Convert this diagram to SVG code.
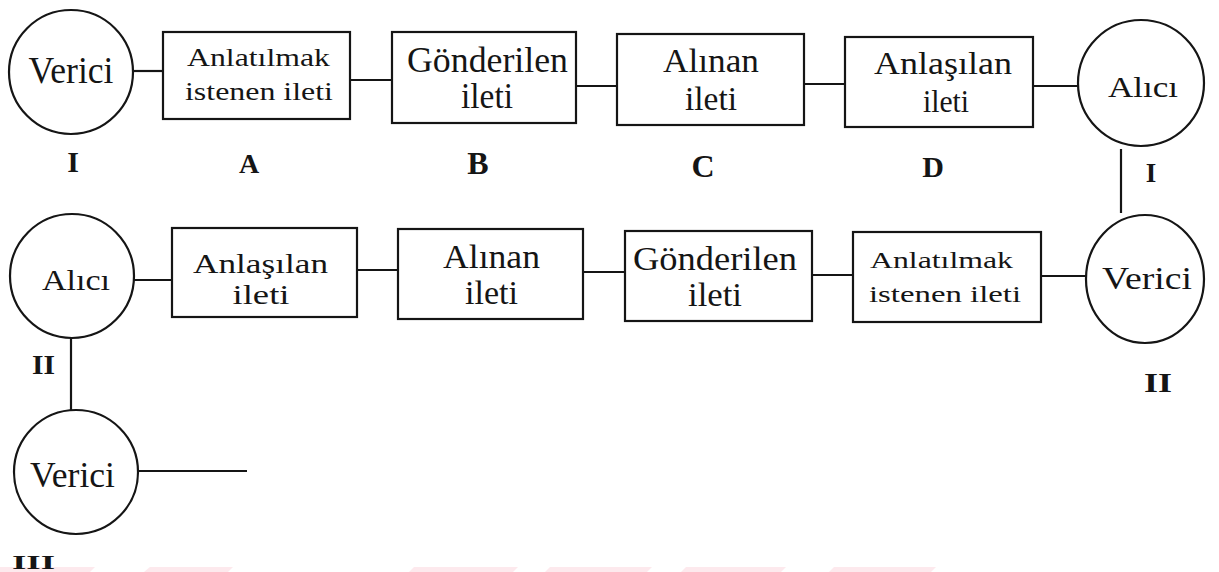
<svg xmlns="http://www.w3.org/2000/svg" width="1219" height="572" viewBox="0 0 1219 572">
  <defs>
    <style>
      .shape { fill: #ffffff; stroke: #151515; stroke-width: 2.2; }
      .wire { stroke: #151515; stroke-width: 2.2; fill: none; }
      .t { font-family: "Liberation Serif", "Times New Roman", serif; fill: #151515; text-anchor: middle; }
      .lbl { font-family: "Liberation Serif", "Times New Roman", serif; fill: #151515; text-anchor: middle; font-weight: bold; }
      .band { fill: #fde9ed; }
    </style>
  </defs>

  <rect x="0" y="0" width="1219" height="572" fill="#ffffff"/>

  <!-- faint band along the bottom edge -->
  <g id="bottom-band">
    <polygon class="band" points="0,567 95,567 90,572 0,572"/>
    <polygon class="band" points="150,567 233,567 228,572 144,572"/>
    <polygon class="band" points="414,567 518,567 513,572 409,572"/>
    <polygon class="band" points="550,567 652,567 647,572 545,572"/>
    <polygon class="band" points="686,567 786,567 781,572 681,572"/>
    <polygon class="band" points="834,567 936,567 931,572 829,572"/>
  </g>

  <!-- connectors -->
  <g id="connectors">
    <line class="wire" x1="133" y1="71" x2="163" y2="71"/>
    <line class="wire" x1="350" y1="80" x2="392" y2="80"/>
    <line class="wire" x1="576" y1="86" x2="617" y2="86"/>
    <line class="wire" x1="804" y1="84" x2="845" y2="84"/>
    <line class="wire" x1="1033" y1="86" x2="1078" y2="86"/>
    <line class="wire" x1="1121" y1="149" x2="1121" y2="213"/>
    <line class="wire" x1="134" y1="280" x2="172" y2="280"/>
    <line class="wire" x1="357" y1="270" x2="398" y2="270"/>
    <line class="wire" x1="583" y1="272" x2="625" y2="272"/>
    <line class="wire" x1="812" y1="275" x2="853" y2="275"/>
    <line class="wire" x1="1041" y1="276" x2="1087" y2="276"/>
    <line class="wire" x1="71" y1="338" x2="71" y2="411"/>
    <line class="wire" x1="138" y1="471" x2="247" y2="471"/>
  </g>

  <!-- first chain -->
  <g id="verici-1">
    <circle class="shape" cx="71" cy="72" r="62"/>
    <text class="t" x="71" y="83" font-size="38" textLength="85" lengthAdjust="spacingAndGlyphs">Verici</text>
    <text class="lbl" x="73" y="172" font-size="30">I</text>
  </g>
  <g id="ileti-a">
    <rect class="shape" x="163" y="32" width="187" height="87"/>
    <text class="t" x="258.5" y="66" font-size="25" textLength="143" lengthAdjust="spacingAndGlyphs">Anlatılmak</text>
    <text class="t" x="259" y="100" font-size="25" textLength="148" lengthAdjust="spacingAndGlyphs">istenen ileti</text>
    <text class="lbl" x="249" y="173" font-size="28">A</text>
  </g>
  <g id="ileti-b">
    <rect class="shape" x="392" y="32" width="184" height="91"/>
    <text class="t" x="487.5" y="72" font-size="35" textLength="161" lengthAdjust="spacingAndGlyphs">Gönderilen</text>
    <text class="t" x="487" y="108" font-size="35" textLength="52" lengthAdjust="spacingAndGlyphs">ileti</text>
    <text class="lbl" x="478" y="174" font-size="32">B</text>
  </g>
  <g id="ileti-c">
    <rect class="shape" x="617" y="34" width="187" height="91"/>
    <text class="t" x="711" y="72" font-size="33" textLength="96" lengthAdjust="spacingAndGlyphs">Alınan</text>
    <text class="t" x="711" y="110" font-size="33" textLength="52" lengthAdjust="spacingAndGlyphs">ileti</text>
    <text class="lbl" x="703" y="177" font-size="32">C</text>
  </g>
  <g id="ileti-d">
    <rect class="shape" x="845" y="37" width="188" height="90"/>
    <text class="t" x="943" y="74" font-size="32" textLength="138" lengthAdjust="spacingAndGlyphs">Anlaşılan</text>
    <text class="t" x="946" y="112" font-size="32" textLength="46" lengthAdjust="spacingAndGlyphs">ileti</text>
    <text class="lbl" x="933" y="177" font-size="30">D</text>
  </g>
  <g id="alici-1">
    <circle class="shape" cx="1141" cy="83" r="63"/>
    <text class="t" x="1143" y="97" font-size="30" textLength="70" lengthAdjust="spacingAndGlyphs">Alıcı</text>
    <text class="lbl" x="1151" y="182" font-size="27">I</text>
  </g>

  <!-- second chain -->
  <g id="verici-2">
    <ellipse class="shape" cx="1145" cy="279" rx="59" ry="64"/>
    <text class="t" x="1147" y="289" font-size="31" textLength="90" lengthAdjust="spacingAndGlyphs">Verici</text>
    <text class="lbl" x="1158" y="392" font-size="27" textLength="28" lengthAdjust="spacingAndGlyphs">II</text>
  </g>
  <g id="ileti-a2">
    <rect class="shape" x="853" y="232" width="188" height="90"/>
    <text class="t" x="941.5" y="268" font-size="23" textLength="143" lengthAdjust="spacingAndGlyphs">Anlatılmak</text>
    <text class="t" x="945" y="302" font-size="23" textLength="152" lengthAdjust="spacingAndGlyphs">istenen ileti</text>
  </g>
  <g id="ileti-b2">
    <rect class="shape" x="625" y="231" width="187" height="90"/>
    <text class="t" x="715" y="270" font-size="34" textLength="164" lengthAdjust="spacingAndGlyphs">Gönderilen</text>
    <text class="t" x="715" y="306" font-size="34" textLength="54" lengthAdjust="spacingAndGlyphs">ileti</text>
  </g>
  <g id="ileti-c2">
    <rect class="shape" x="398" y="229" width="185" height="90"/>
    <text class="t" x="491.5" y="268" font-size="34" textLength="97" lengthAdjust="spacingAndGlyphs">Alınan</text>
    <text class="t" x="491.5" y="304" font-size="34" textLength="53" lengthAdjust="spacingAndGlyphs">ileti</text>
  </g>
  <g id="ileti-d2">
    <rect class="shape" x="172" y="228" width="185" height="89"/>
    <text class="t" x="260.5" y="273" font-size="28" textLength="135" lengthAdjust="spacingAndGlyphs">Anlaşılan</text>
    <text class="t" x="261" y="304" font-size="28" textLength="57" lengthAdjust="spacingAndGlyphs">ileti</text>
  </g>
  <g id="alici-2">
    <circle class="shape" cx="72" cy="276" r="62"/>
    <text class="t" x="76" y="290" font-size="30" textLength="68" lengthAdjust="spacingAndGlyphs">Alıcı</text>
    <text class="lbl" x="43.5" y="374" font-size="27" textLength="23" lengthAdjust="spacingAndGlyphs">II</text>
  </g>

  <!-- third sender -->
  <g id="verici-3">
    <circle class="shape" cx="76" cy="472" r="62"/>
    <text class="t" x="72.5" y="487" font-size="36" textLength="85" lengthAdjust="spacingAndGlyphs">Verici</text>
    <text class="lbl" x="33.5" y="569" font-size="19" textLength="43" lengthAdjust="spacingAndGlyphs">III</text>
  </g>
</svg>
